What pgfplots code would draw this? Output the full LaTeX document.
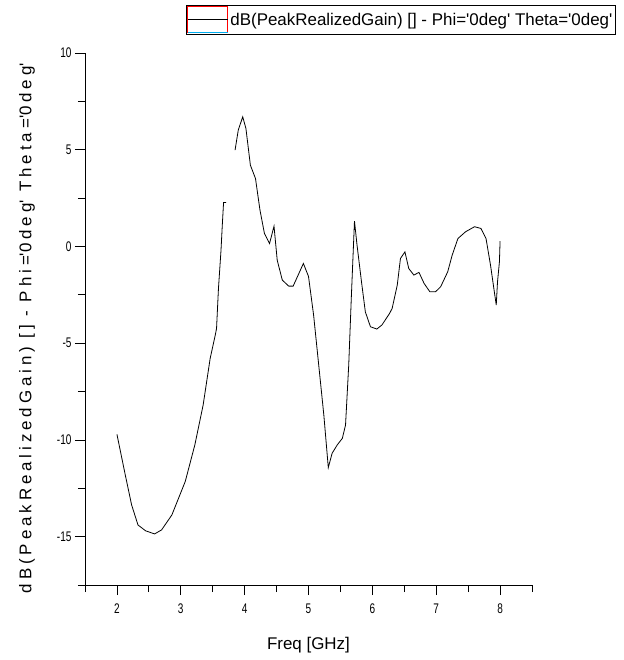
\documentclass[border=0pt]{standalone}
\usepackage{fontspec}
\setmainfont{Liberation Sans}
\newfontfamily\ticksfont{Liberation Sans}[FakeStretch=0.72]
\newfontfamily\ylabfont{Liberation Sans}[LetterSpace=23]
\newcommand\q{\textquotesingle}
\usepackage{pgfplots}
\pgfplotsset{compat=1.18}
\begin{document}
\begin{tikzpicture}
\begin{axis}[
  name=ax,
  scale only axis, width=447bp, height=532bp,
  xmin=1.5, xmax=8.5, ymin=-17.5, ymax=10,
  axis lines=left,
  axis line style={-, line width=0.8bp, black},
  xtick={2,3,4,5,6,7,8}, xticklabels={2,3,4,5,6,7,8},
  ytick={-15,-10,-5,0,5,10}, yticklabels={-15,-10,-5,0,5,10},
  minor xtick={1.5,2.5,3.5,4.5,5.5,6.5,7.5,8.5},
  minor ytick={-17.5,-12.5,-7.5,-2.5,2.5,7.5},
  xtick align=outside, ytick align=outside,
  tickwidth=10bp, subtickwidth=7bp,
  every major tick/.append style={black, line width=0.8bp},
  every minor tick/.append style={black, line width=0.8bp},
  ticklabel style={font=\ticksfont\fontsize{14}{14}\selectfont},
  xticklabel style={yshift=-5bp},
  xlabel={Freq [GHz]},
  xlabel style={font=\fontsize{17}{17}\selectfont, at={(axis description cs:0.5,-0.1128)}, anchor=center},
  ylabel={\ylabfont dB(PeakRealizedGain) [] - Phi=\q0deg\q{} Theta=\q0deg\q},
  ylabel style={font=\fontsize{17}{17}\selectfont, at={(axis description cs:-0.1298,0.483)}, anchor=center, rotate=0},
  unbounded coords=jump,
  legend style={at={(axis description cs:0.226,1.0902)}, anchor=north west,
    draw=black, line width=0.8bp, inner xsep=1bp, inner ysep=1bp,
    font=\fontsize{17}{17}\selectfont,
    /tikz/every even column/.append style={column sep=2bp}},
  legend cell align=left,
  legend image code/.code={
    \draw[red, line width=1bp] (0bp,-13bp) -- (0bp,13bp) -- (40bp,13bp) -- (40bp,-13bp);
    \draw[cyan, line width=1bp] (0bp,-13bp) -- (40bp,-13bp);
    \draw[black, line width=0.8bp] (0bp,1bp) -- (40bp,1bp);
  },
]
\addplot[black, line width=0.8bp] coordinates {
(2.00,-9.71) (2.13,-11.8) (2.23,-13.36) (2.33,-14.4) (2.45,-14.7) (2.59,-14.86)
(2.70,-14.65) (2.86,-13.88) (3.07,-12.15) (3.22,-10.26) (3.35,-8.2) (3.46,-5.79)
(3.54,-4.58) (3.56,-4.24) (3.59,-2.17) (3.63,-0.19) (3.65,1.1) (3.67,2.27) (3.71,2.27)
(3.78,nan)
(3.85,4.98) (3.90,6.01) (3.97,6.70) (4.02,6.1) (4.09,4.2) (4.17,3.51) (4.24,1.88)
(4.31,0.67) (4.39,0.15) (4.46,1.05) (4.51,-0.71) (4.59,-1.74) (4.69,-2.05) (4.76,-2.05)
(4.85,-1.39) (4.92,-0.88) (5.00,-1.55) (5.08,-3.55) (5.16,-6.13) (5.24,-8.71)
(5.31,-11.43) (5.37,-10.69) (5.45,-10.26) (5.53,-9.92) (5.58,-9.23) (5.63,-6.13)
(5.67,-2.69) (5.70,-0.28) (5.72,1.31) (5.76,0.07) (5.83,-1.83) (5.89,-3.38)
(5.97,-4.15) (6.07,-4.27) (6.15,-4.06) (6.27,-3.46) (6.31,-3.2) (6.39,-2.0)
(6.44,-0.62) (6.51,-0.28) (6.57,-1.14) (6.65,-1.48) (6.73,-1.34) (6.81,-1.91)
(6.90,-2.34) (6.99,-2.34) (7.07,-2.08) (7.18,-1.31) (7.25,-0.45) (7.34,0.41)
(7.46,0.76) (7.60,1.02) (7.70,0.93) (7.78,0.41) (7.85,-0.96) (7.94,-3.03)
(7.96,-1.83) (7.99,-0.79) (8.00,0.27)
};
\addlegendentry{dB(PeakRealizedGain) [] - Phi=\q0deg\q{} Theta=\q0deg\q}
\end{axis}
% second axis: draws the long (major-position) ticks as minor ticks
\begin{axis}[
  scale only axis, width=447bp, height=532bp,
  xmin=1.5, xmax=8.5, ymin=-17.5, ymax=10,
  axis lines=left,
  axis line style={draw=none},
  xtick=\empty, ytick=\empty,
  minor xtick={2,3,4,5,6,7,8},
  minor ytick={-15,-10,-5,0,5,10},
  xtick align=outside, ytick align=outside,
  subtickwidth=10bp,
  every minor tick/.append style={black, line width=0.8bp},
]
\end{axis}
\path ([xshift=-85bp,yshift=-75bp]ax.south west) rectangle ([xshift=92bp,yshift=53bp]ax.north east);
\end{tikzpicture}
\end{document}
